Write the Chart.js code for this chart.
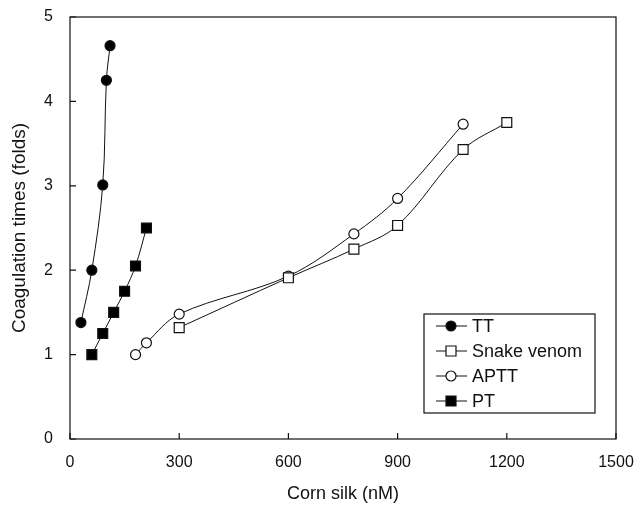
<!DOCTYPE html>
<html>
<head>
<meta charset="utf-8">
<script src="https://cdn.jsdelivr.net/npm/chart.js@4/dist/chart.umd.min.js"></script>
<style>
html,body{margin:0;padding:0;background:#fff;}
#wrap{width:638px;height:508px;}
</style>
</head>
<body>
<div id="wrap"><canvas id="c" width="638" height="508"></canvas></div>
<script>
// Data
const ttX = [30, 60, 90, 100, 110];
const ttY = [1.38, 2.0, 3.01, 4.25, 4.66];
const snakeX = [300, 600, 780, 900, 1080, 1200];
const snakeY = [1.32, 1.91, 2.25, 2.53, 3.43, 3.75];
const apttX = [180, 210, 300, 600, 780, 900, 1080];
const apttY = [1.0, 1.14, 1.48, 1.93, 2.43, 2.85, 3.73];
const ptX = [60, 90, 120, 150, 180, 210];
const ptY = [1.0, 1.25, 1.5, 1.75, 2.05, 2.5];
const seriesNames = ['TT', 'Snake venom', 'APTT', 'PT'];
const xTicks = [0, 300, 600, 900, 1200, 1500];
const yTicks = [0, 1, 2, 3, 4, 5];

const pts = (xs, ys) => xs.map((x, i) => ({x: x, y: ys[i]}));

const styles = [
  {pointStyle: 'circle', fill: '#000', r: 5},
  {pointStyle: 'rect', fill: '#fff', r: 7},
  {pointStyle: 'circle', fill: '#fff', r: 5},
  {pointStyle: 'rect', fill: '#000', r: 7}
];
const seriesData = [pts(ttX, ttY), pts(snakeX, snakeY), pts(apttX, apttY), pts(ptX, ptY)];

const datasets = seriesNames.map((n, i) => ({
  label: n,
  data: seriesData[i],
  showLine: true,
  borderColor: '#111',
  borderWidth: 1,
  tension: 0.35,
  pointStyle: styles[i].pointStyle,
  pointRadius: styles[i].r,
  pointHoverRadius: styles[i].r,
  pointBackgroundColor: styles[i].fill,
  pointBorderColor: '#111',
  pointBorderWidth: 1.2
}));

const FONT = '"Liberation Sans", Arial, sans-serif';

const frame = {
  id: 'frame',
  afterDraw(chart) {
    const ctx = chart.ctx, a = chart.chartArea;
    const xs = chart.scales.x, ys = chart.scales.y;
    ctx.save();
    ctx.strokeStyle = '#111';
    ctx.lineWidth = 1.2;
    ctx.strokeRect(a.left, a.top, a.right - a.left, a.bottom - a.top);
    ctx.beginPath();
    xTicks.forEach(v => { const p = xs.getPixelForValue(v); ctx.moveTo(p, a.bottom); ctx.lineTo(p, a.bottom - 6); });
    yTicks.forEach(v => { const p = ys.getPixelForValue(v); ctx.moveTo(a.left, p); ctx.lineTo(a.left + 6, p); });
    ctx.stroke();

    // legend box
    const bx = 424, by = 314, bw = 171, bh = 99;
    ctx.fillStyle = '#fff';
    ctx.fillRect(bx, by, bw, bh);
    ctx.lineWidth = 1.2;
    ctx.strokeRect(bx, by, bw, bh);
    ctx.font = '18px ' + FONT;
    ctx.textBaseline = 'middle';
    seriesNames.forEach((n, i) => {
      const y = by + 12 + i * 25;
      ctx.strokeStyle = '#111';
      ctx.lineWidth = 1;
      ctx.beginPath(); ctx.moveTo(436, y); ctx.lineTo(467, y); ctx.stroke();
      const cx = 451;
      ctx.fillStyle = styles[i].fill;
      ctx.beginPath();
      if (styles[i].pointStyle === 'circle') {
        ctx.arc(cx, y, 5, 0, Math.PI * 2);
      } else {
        ctx.rect(cx - 5, y - 5, 10, 10);
      }
      ctx.fill();
      ctx.lineWidth = 1.2;
      ctx.stroke();
      ctx.fillStyle = '#111';
      ctx.fillText(n, 472, y + 1);
    });
    ctx.restore();
  }
};

new Chart(document.getElementById('c'), {
  type: 'scatter',
  data: {datasets: datasets},
  options: {
    responsive: false,
    animation: false,
    events: [],
    layout: {autoPadding: false, padding: {top: 17, right: 22, left: 0, bottom: 0}},
    plugins: {legend: {display: false}, tooltip: {enabled: false}},
    scales: {
      x: {
        type: 'linear', min: 0, max: 1500,
        afterBuildTicks: s => { s.ticks = xTicks.map(v => ({value: v})); },
        afterFit: s => { s.height = 69; s.paddingLeft = 0; s.paddingRight = 0; },
        grid: {display: false, drawTicks: false},
        border: {display: false},
        ticks: {color: '#111', padding: 14, maxRotation: 0, callback: v => String(v), font: {family: FONT, size: 16}},
        title: {display: true, text: 'Corn silk (nM)', color: '#111', padding: {top: 6, bottom: 3}, font: {family: FONT, size: 18}}
      },
      y: {
        type: 'linear', min: 0, max: 5,
        afterBuildTicks: s => { s.ticks = yTicks.map(v => ({value: v})); },
        afterFit: s => { s.width = 70; s.paddingTop = 0; s.paddingBottom = 0; },
        grid: {display: false, drawTicks: false},
        border: {display: false},
        ticks: {color: '#111', padding: 17, callback: v => String(v), font: {family: FONT, size: 16}},
        title: {display: true, text: 'Coagulation times (folds)', color: '#111', padding: {top: 8, bottom: 0}, font: {family: FONT, size: 19}}
      }
    }
  },
  plugins: [frame]
});
</script>
</body>
</html>
